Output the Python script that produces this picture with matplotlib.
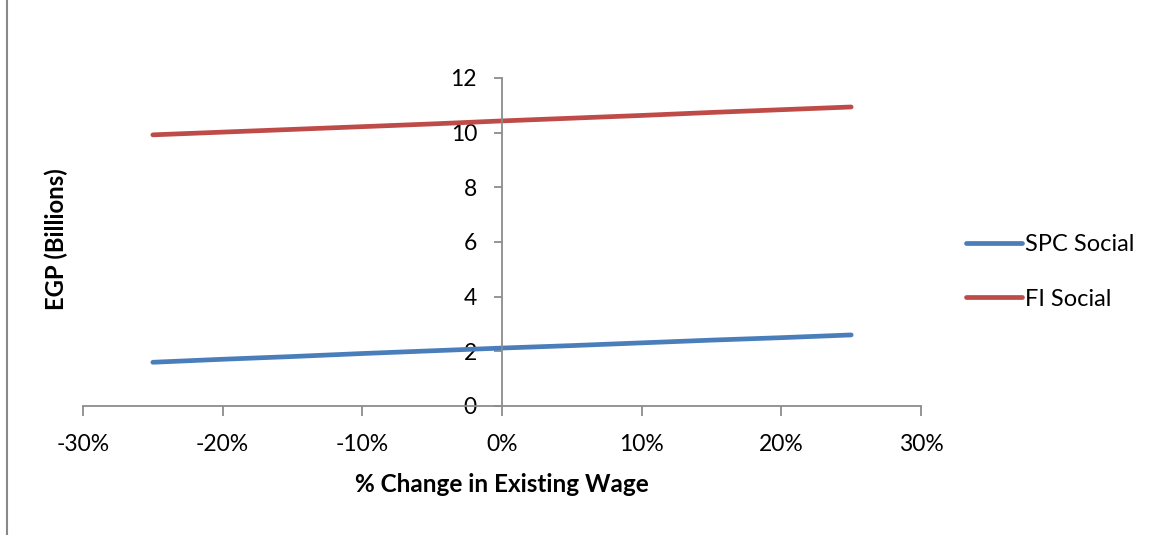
import matplotlib
matplotlib.use("Agg")
import matplotlib.pyplot as plt
from matplotlib.lines import Line2D
from matplotlib.ticker import FuncFormatter

plt.rcParams['font.family'] = ['Lato', 'DejaVu Sans']

# % change in existing wage
wage_change = [-0.25, -0.20, -0.15, -0.10, -0.05, 0.0, 0.05, 0.10, 0.15, 0.20, 0.25]
spc_social = [1.60, 1.71, 1.81, 1.92, 2.02, 2.12, 2.21, 2.31, 2.41, 2.50, 2.60]
fi_social = [9.92, 10.02, 10.12, 10.22, 10.32, 10.43, 10.53, 10.63, 10.74, 10.84, 10.94]
x_ticks = [-0.3, -0.2, -0.1, 0.0, 0.1, 0.2, 0.3]
y_ticks = [0, 2, 4, 6, 8, 10, 12]

W, H = 1159, 535
fig = plt.figure(figsize=(W / 100, H / 100), dpi=100)
ax = fig.add_axes([83 / W, 1 - 406 / H, 838 / W, 328 / H])

blue = '#4A7EBB'
red = '#BE4B48'
ax.plot(wage_change, spc_social, color=blue, lw=3.4, solid_capstyle='round', label='SPC Social')
ax.plot(wage_change, fi_social, color=red, lw=3.4, solid_capstyle='round', label='FI Social')

ax.set_xlim(-0.3, 0.3)
ax.set_ylim(0, 12)
ax.set_xticks(x_ticks)
ax.set_yticks(y_ticks)
ax.xaxis.set_major_formatter(FuncFormatter(lambda v, p: '%d%%' % round(v * 100)))

gray = '#8C8C8C'
for s in ['top', 'right']:
    ax.spines[s].set_visible(False)
ax.spines['left'].set_position(('data', 0))
ax.spines['left'].set_color(gray)
ax.spines['bottom'].set_color(gray)
ax.spines['left'].set_linewidth(1.3)
ax.spines['bottom'].set_linewidth(1.3)
ax.tick_params(axis='x', direction='out', length=7, width=1.3, color=gray, pad=13, labelsize=16.5)
ax.tick_params(axis='y', direction='out', length=6, width=1.3, color=gray, pad=12, labelsize=16.5)

ax.set_xlabel('% Change in Existing Wage', fontsize=17.5, fontweight='bold')
ax.xaxis.set_label_coords(0.5, -0.205)
ax.set_ylabel('EGP (Billions)', fontsize=17.2, fontweight='bold')
ax.yaxis.set_label_coords(-0.018, 0.51)

ax.legend(loc='center left', bbox_to_anchor=(945 / W, 1 - 272 / H), bbox_transform=fig.transFigure,
          frameon=False, fontsize=17, handlelength=2.35, handletextpad=0.15, labelspacing=1.4)

# outer border on the left edge
fig.add_artist(Line2D([7 / W, 7 / W], [0, 1], transform=fig.transFigure, color='#888888', lw=1.5))

fig.savefig('out.png', dpi=100)
